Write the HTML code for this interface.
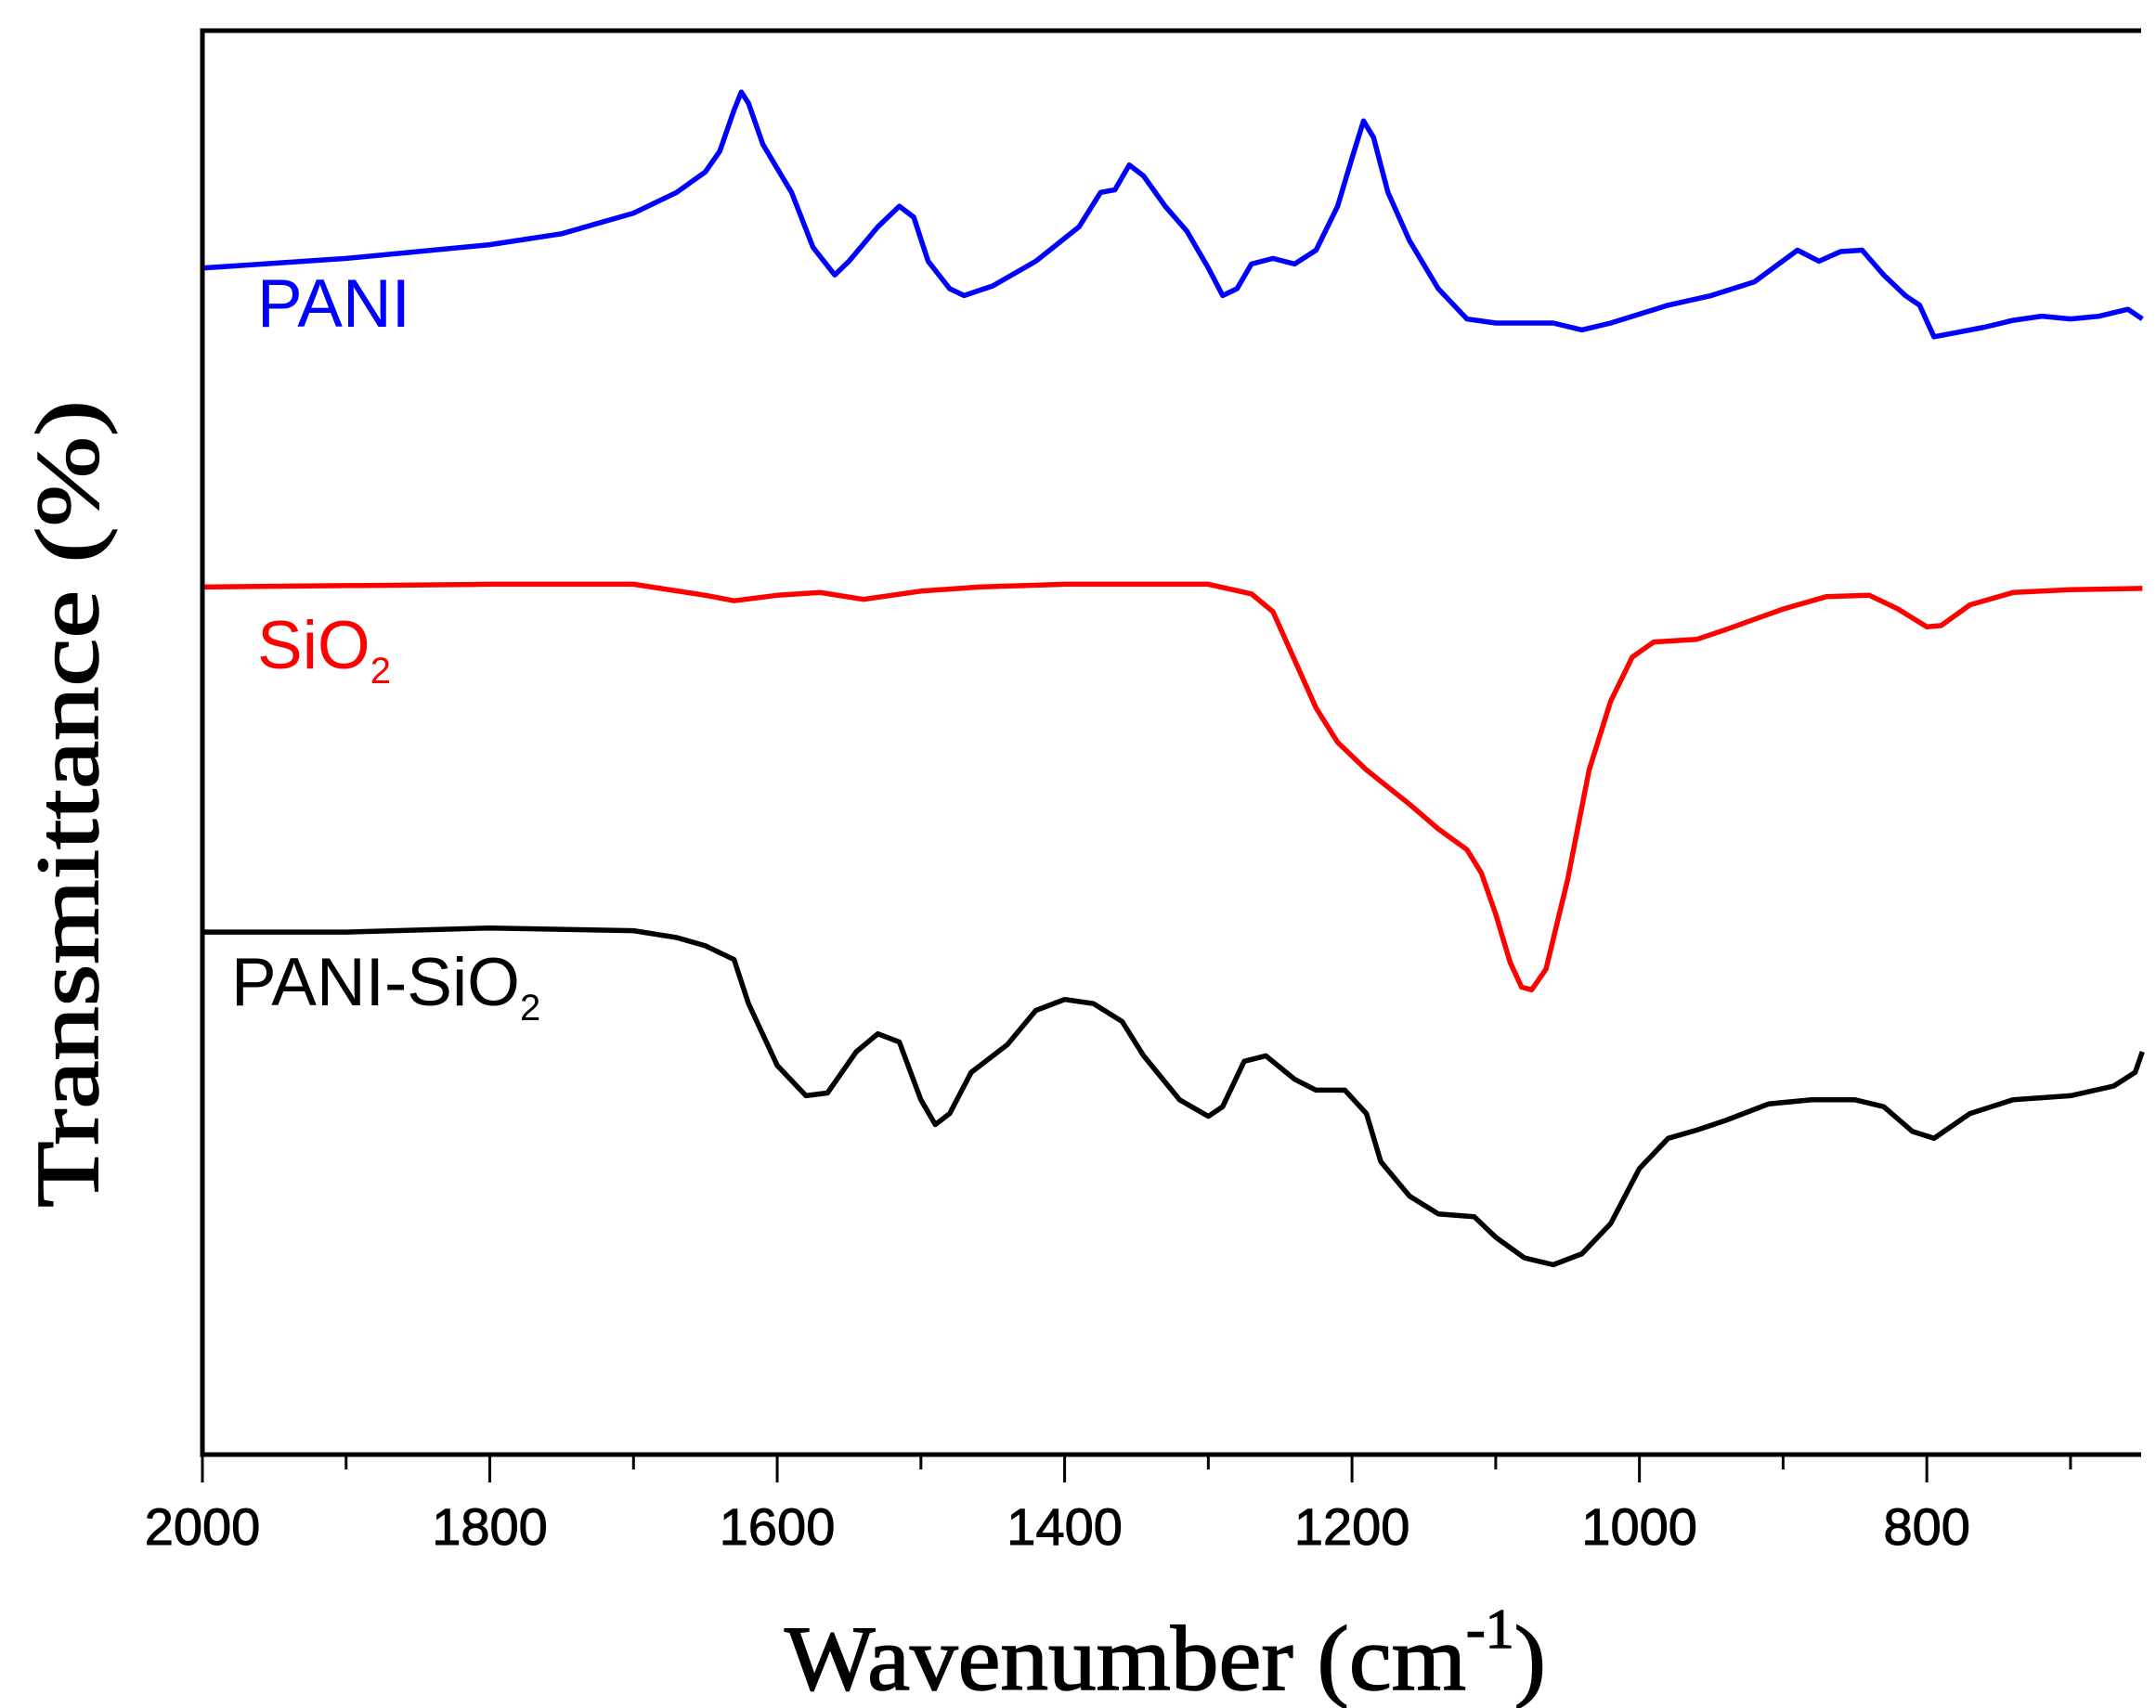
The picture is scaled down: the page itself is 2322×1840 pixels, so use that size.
<!DOCTYPE html>
<html><head><meta charset="utf-8"><style>
html,body{margin:0;padding:0;background:#fff;}
svg{display:block;}
</style></head><body>
<svg id="chart" width="2322" height="1840" viewBox="0 0 2322 1840" xmlns="http://www.w3.org/2000/svg">
<rect x="0" y="0" width="2322" height="1840" fill="#fff"/>
<g id="series"></g>
<g id="axes"></g>
<text x="277" y="352" font-family="Liberation Sans, sans-serif" font-size="73" fill="#0000ff">PANI</text>
<text x="277" y="720" font-family="Liberation Sans, sans-serif" font-size="73" fill="#ff0000">SiO<tspan font-size="40" dy="16">2</tspan></text>
<text x="249" y="1083" font-family="Liberation Sans, sans-serif" font-size="73" fill="#000">PANI-SiO<tspan font-size="40" dy="16">2</tspan></text>
<text x="845" y="1820" textLength="820" lengthAdjust="spacingAndGlyphs" font-family="Liberation Serif, serif" font-size="100" fill="#000" stroke="#000" stroke-width="1.5">Wavenumber (cm<tspan font-size="60" dy="-45">-1</tspan><tspan dy="45">)</tspan></text>
<text transform="translate(105,866) rotate(-90)" text-anchor="middle" textLength="870" lengthAdjust="spacingAndGlyphs" font-family="Liberation Serif, serif" font-size="96" fill="#000" stroke="#000" stroke-width="1.5">Transmittance (%)</text>
</svg>
<script>
const xTicks=[2000,1800,1600,1400,1200,1000,800];
const xMinor=[1900,1700,1500,1300,1100,900,700];
const paniX=[2000,1900,1800,1750,1700,1670,1650,1640,1630,1625,1620,1610,1590,1575,1560,1550,1530,1515,1505,1495,1480,1470,1450,1420,1390,1375,1365,1355,1345,1330,1315,1300,1290,1280,1270,1255,1240,1225,1210,1200,1192,1185,1175,1160,1140,1120,1100,1060,1040,1020,980,950,920,890,875,860,845,830,815,805,795,780,760,740,720,700,680,660,650];
const paniY=[195,188,178,170,155,140,125,110,80,67,75,105,140,180,200,190,165,150,158,190,210,215,208,190,165,140,138,120,128,150,168,195,215,210,192,188,192,182,150,115,88,100,140,175,210,232,235,235,240,235,222,215,205,182,190,183,182,200,215,222,245,242,238,233,230,232,230,225,232];
const sioX=[2000,1800,1700,1650,1630,1600,1570,1540,1500,1460,1400,1300,1270,1255,1240,1225,1210,1190,1160,1140,1120,1110,1100,1090,1082,1075,1065,1050,1035,1020,1005,990,960,940,900,870,840,820,800,790,770,740,700,650];
const sioY=[427,425,425,433,437,433,431,436,430,427,425,425,432,445,480,515,540,560,585,603,618,635,665,700,718,720,705,640,560,510,478,467,465,458,443,434,433,443,456,455,440,431,429,428];
const compX=[2000,1900,1800,1700,1670,1650,1630,1620,1600,1580,1565,1545,1530,1515,1500,1490,1480,1465,1440,1420,1400,1380,1360,1345,1320,1300,1290,1275,1260,1240,1225,1205,1190,1180,1160,1140,1115,1100,1080,1060,1040,1020,1000,980,960,940,910,880,850,830,810,795,770,740,700,670,655,650];
const compY=[678,678,675,677,682,688,698,730,775,797,795,765,752,758,800,818,810,780,760,735,727,730,743,768,800,812,805,772,768,785,793,793,810,845,870,883,885,900,915,920,912,890,850,828,822,815,803,800,800,805,823,828,810,800,797,790,780,765];
const L=218,R=2306,T=33,B=1567;
const NS='http://www.w3.org/2000/svg';
function xs(w){return L+(2000-w)*1.045*1.481;}
function ys(t){return t*1.481;}
const sg=document.getElementById('series');
function draw(X,Y,color,name){
  const p=document.createElementNS(NS,'path');
  let d='';
  for(let i=0;i<X.length;i++){d+=(i?'L':'M')+xs(Math.max(X[i],650)).toFixed(1)+','+ys(Y[i]).toFixed(1);}
  p.setAttribute('d',d);p.setAttribute('fill','none');p.setAttribute('stroke',color);
  p.setAttribute('stroke-width','5.5');p.setAttribute('stroke-linejoin','round');
  
  
  sg.appendChild(p);
}
draw(paniX,paniY,'#0000ff','pani-line');
draw(sioX,sioY,'#ff0000','sio2-line');
draw(compX,compY,'#000000','pani-sio2-line');
const ag=document.getElementById('axes');
const fr=document.createElementNS(NS,'path');
fr.setAttribute('d',`M${R},${T}H${L}V${B}H${R}`);
fr.setAttribute('fill','none');fr.setAttribute('stroke','#000');fr.setAttribute('stroke-width','5');


ag.appendChild(fr);
xTicks.forEach(v=>{
  const l=document.createElementNS(NS,'line');
  l.setAttribute('x1',xs(v));l.setAttribute('x2',xs(v));l.setAttribute('y1',B);l.setAttribute('y2',B+30);
  l.setAttribute('stroke','#000');l.setAttribute('stroke-width','3');
  
  
  ag.appendChild(l);
  const t=document.createElementNS(NS,'text');
  t.setAttribute('x',xs(v));t.setAttribute('y',1664);t.setAttribute('text-anchor','middle');
  t.setAttribute('font-family','Liberation Sans, sans-serif');t.setAttribute('font-size','56');
  t.setAttribute('stroke','#000');t.setAttribute('stroke-width','1');
  t.textContent=v;
  
  
  ag.appendChild(t);
});
xMinor.forEach(v=>{
  const l=document.createElementNS(NS,'line');
  l.setAttribute('x1',xs(v));l.setAttribute('x2',xs(v));l.setAttribute('y1',B);l.setAttribute('y2',B+16);
  l.setAttribute('stroke','#000');l.setAttribute('stroke-width','3');
  
  
  ag.appendChild(l);
});
</script>
</body></html>
